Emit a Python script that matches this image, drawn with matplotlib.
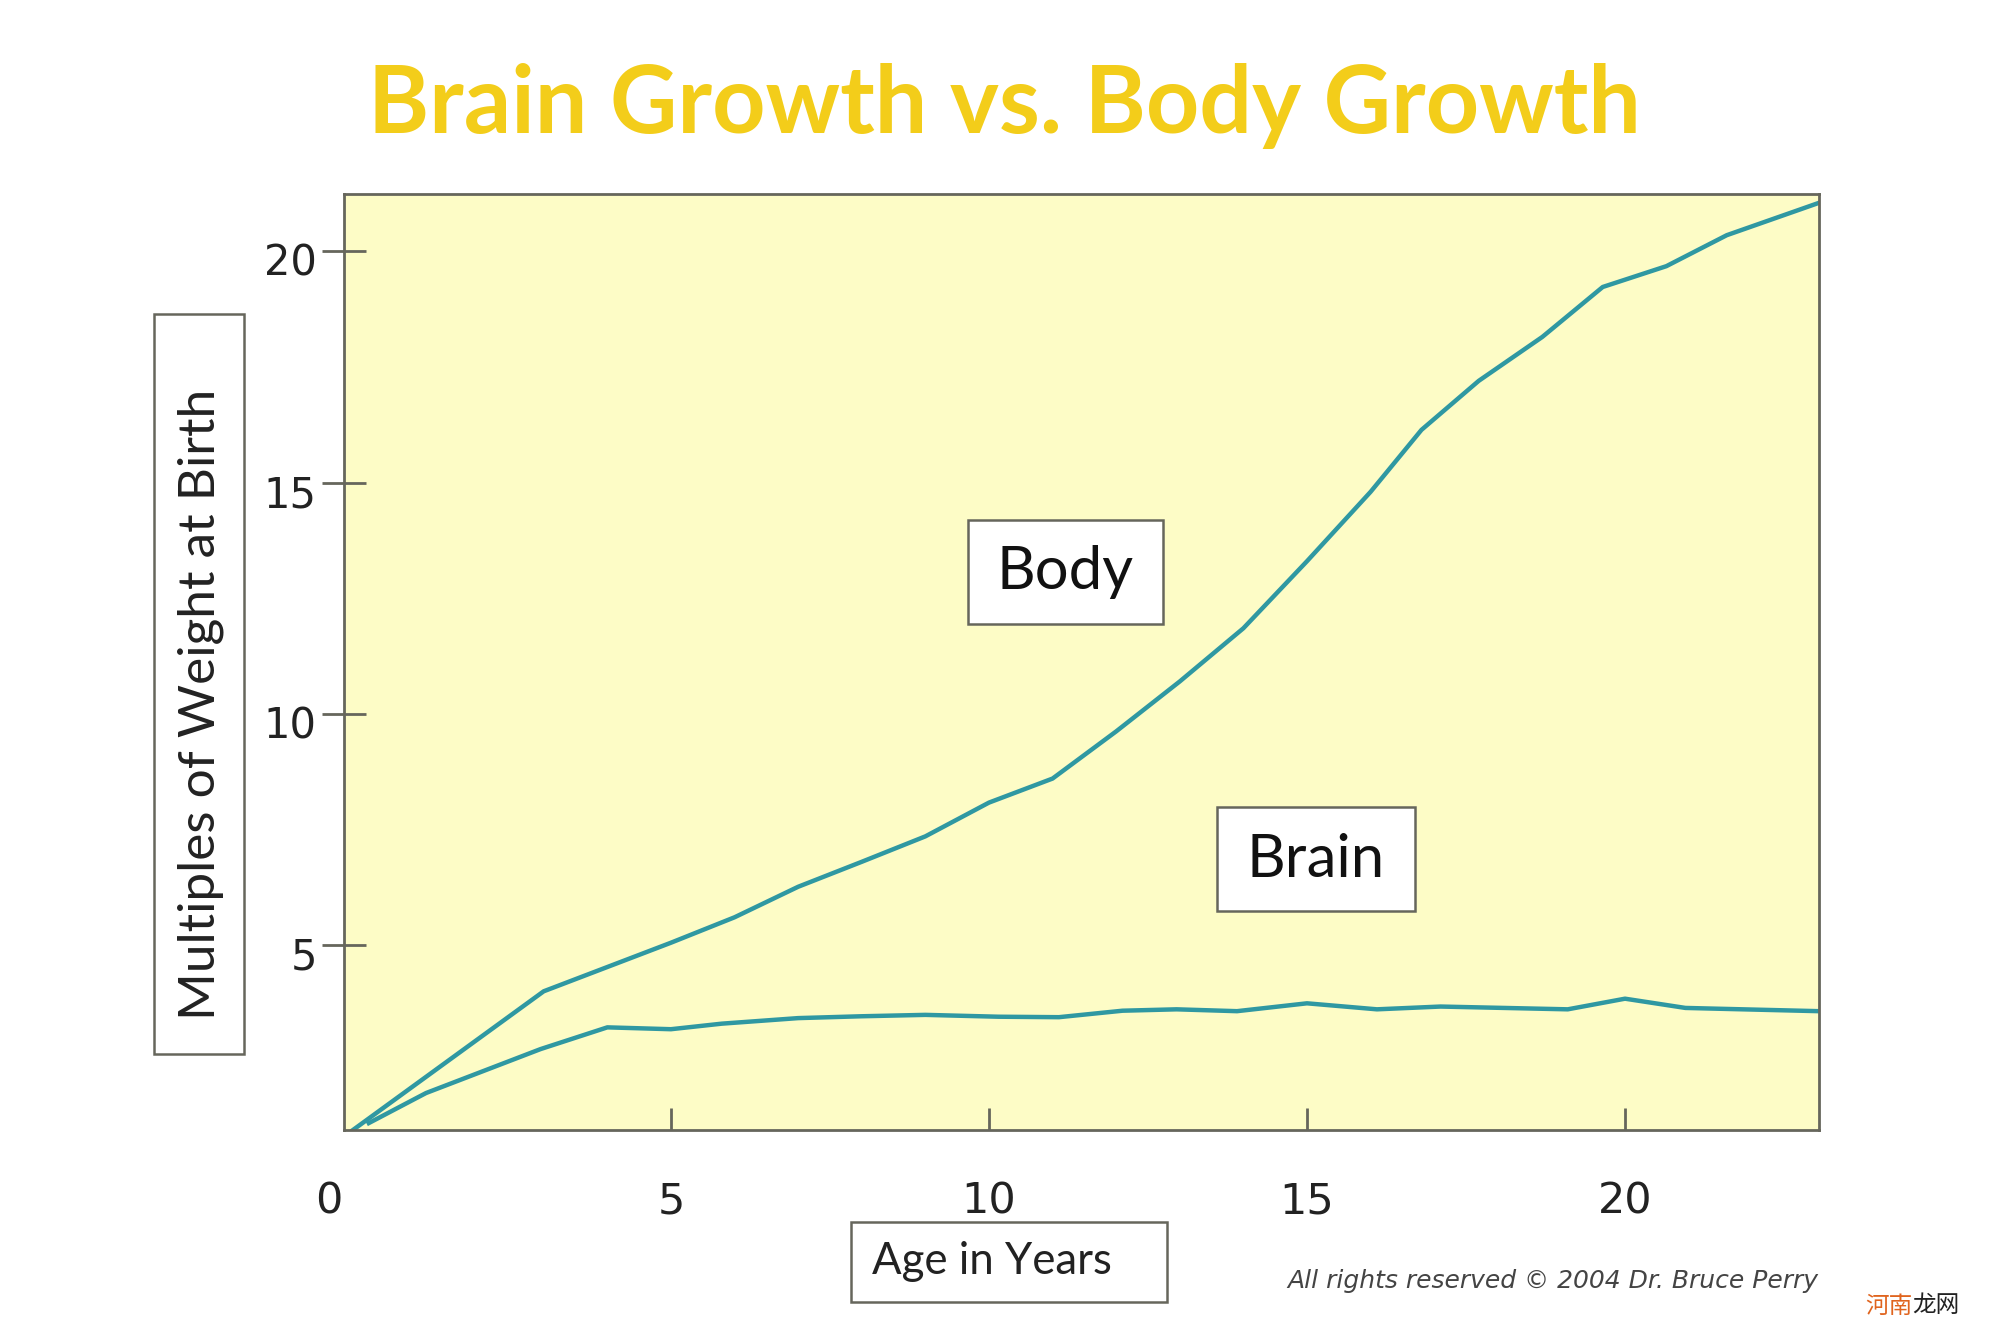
import matplotlib

matplotlib.use("Agg")
import matplotlib.pyplot as plt
import matplotlib.transforms as mtransforms
from matplotlib.patches import Rectangle

# Values (age in years, multiples of weight at birth)
body_age = [0, 3, 5, 6, 7, 8, 9, 10, 11, 12, 13, 14, 15, 16, 16.8, 17.7,
            18.7, 19.65, 20.65, 21.6, 23.05]
body_mult = [1.0, 4.0, 5.05, 5.6, 6.26, 6.8, 7.35, 8.08, 8.6, 9.62, 10.7,
             11.85, 13.3, 14.8, 16.14, 17.2, 18.15, 19.23, 19.68, 20.35, 21.05]

brain_age = [0.25, 1.15, 2.95, 4.0, 5.0, 5.8, 7.0, 8.0, 9.0, 10.15, 11.1,
             12.1, 12.95, 13.9, 15.0, 16.1, 17.1, 19.1, 20.0, 20.95, 23.05]
brain_mult = [1.15, 1.8, 2.75, 3.22, 3.18, 3.3, 3.42, 3.46, 3.49, 3.45, 3.44,
              3.58, 3.61, 3.57, 3.74, 3.61, 3.67, 3.61, 3.84, 3.64, 3.57]

x_ticks = [0, 5, 10, 15, 20]
x_tick_labels = ["0", "5", "10", "15", "20"]
y_ticks = [5, 10, 15, 20]
y_tick_labels = ["5", "10", "15", "20"]

title = "Brain Growth vs. Body Growth"
x_label = "Age in Years"
y_label = "Multiples of Weight at Birth"
credit = "All rights reserved \u00a9 2004 Dr. Bruce Perry"

LINE = "#2f98a2"
FRAME = "#66665c"
FILL = "#fdfcc6"
GOLD = "#f3cd1a"
W, H = 2000, 1340

fig = plt.figure(figsize=(20, 13.4), dpi=100)
fig.patch.set_facecolor("white")

ax = fig.add_axes([0.172, 0.1567, 0.7375, 0.6985])
ax.set_facecolor(FILL)
ax.plot(body_age, body_mult, color=LINE, lw=3.2, solid_joinstyle="round")
ax.plot(brain_age, brain_mult, color=LINE, lw=3.2, solid_joinstyle="round")
ax.set_xlim(-0.14, 23.05)
ax.set_ylim(1, 21.24)

for side in ax.spines.values():
    side.set_color(FRAME)
    side.set_linewidth(2.0)

ax.set_xticks(x_ticks)
ax.set_xticklabels(x_tick_labels, fontsize=31, color="#222222",
                   family="DejaVu Sans")
ax.tick_params(axis="x", direction="in", length=16, width=2, color=FRAME,
               pad=36)
ax.xaxis.get_major_ticks()[0].tick1line.set_visible(False)
# the "0" sits a bit to the left of the origin in the original slide
zero_lab = ax.get_xticklabels()[0]
zero_lab.set_transform(zero_lab.get_transform()
                       + mtransforms.ScaledTranslation(-0.24, 0, fig.dpi_scale_trans))

ax.set_yticks(y_ticks)
ax.set_yticklabels(y_tick_labels, fontsize=30, color="#222222",
                   family="DejaVu Sans")
ax.tick_params(axis="y", direction="inout", length=31, width=2, color=FRAME,
               pad=4)
down = mtransforms.ScaledTranslation(0, -0.08, fig.dpi_scale_trans)
for lab in ax.get_yticklabels():
    lab.set_transform(lab.get_transform() + down)

# label boxes, given in figure pixels (x0, y0, x1, y1 from the top-left)
boxes = [(968, 520, 1163, 624), (1217, 807, 1415, 911),
         (154, 314, 244, 1054), (851, 1222, 1167, 1302)]
for x0, y0, x1, y1 in boxes:
    fig.patches.append(Rectangle((x0 / W, 1 - y1 / H), (x1 - x0) / W,
                                 (y1 - y0) / H, transform=fig.transFigure,
                                 facecolor="white", edgecolor=FRAME, lw=1.8,
                                 zorder=4))

fig.text(1065 / W, 1 - 572 / H, "Body", fontsize=43, family="Lato",
         ha="center", va="center", color="#111111", zorder=5)
fig.text(1316 / W, 1 - 860 / H, "Brain", fontsize=43, family="Lato",
         ha="center", va="center", color="#111111", zorder=5)

fig.text(201 / W, 1 - 704 / H, y_label, rotation=90, fontsize=37,
         family="Lato", ha="center", va="center", color="#222222", zorder=5)
fig.text(872 / W, 1 - 1262 / H, x_label, fontsize=31.5, family="Lato",
         ha="left", va="center", color="#222222", zorder=5)

fig.text(1004 / W, 1 - 106 / H, title, fontsize=67, family="Lato",
         fontweight="bold", color=GOLD, ha="center", va="center")

fig.text(1818 / W, 1 - 1281 / H, credit, fontsize=18, style="italic",
         family="DejaVu Sans", ha="right", va="center", color="#444444")

fig.text(1865 / W, 1 - 1306 / H, "河南", fontsize=17,
         family=["Noto Sans CJK SC", "DejaVu Sans"], color="#e0641e",
         ha="left", va="center")
fig.text(1912 / W, 1 - 1306 / H, "龙网", fontsize=17,
         family=["Noto Sans CJK SC", "DejaVu Sans"], color="#222222",
         ha="left", va="center")

fig.savefig("out.png", dpi=100)
plt.close(fig)
